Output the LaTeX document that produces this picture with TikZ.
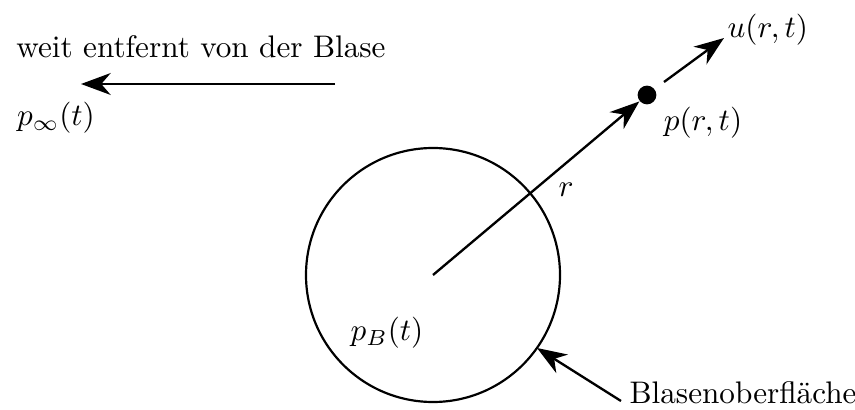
\documentclass[tikz,border=0pt]{standalone}
\usetikzlibrary{arrows.meta}
\begin{document}
\begin{tikzpicture}[x=0.3205pt,y=-0.3205pt,
  conn/.style={line width=0.75pt,-{Stealth[length=9.5pt,width=7pt,inset=3pt]}},
  lbl/.style={inner sep=0pt}]
\useasboundingbox (0,0) rectangle (855,410);
\node[draw,circle,line width=0.7pt,minimum size=254*0.3205pt,inner sep=0pt] (bubble) at (433,275) {};
\coordinate (c) at (433,275);
\node[circle,fill,minimum size=6pt,inner sep=0pt] (dot) at (647,95) {};
\coordinate (uend) at (724,38);
\coordinate (dotout) at (664,82);
\draw[conn] (c) -- (dot);
\draw[conn] (dotout) -- (uend);
\node[lbl,anchor=west] (u) at (727,30) {$u(r,t)$};
\node[lbl] (p) at (703,123) {$p(r,t)$};
\node[lbl] (r) at (566,190) {$r$};
\node[lbl] (pB) at (387,333) {$p_B(t)$};
\node[lbl,anchor=base west] (surf) at (629,404) {Blasenoberfläche};
\coordinate (sa) at (621,401);
\coordinate (tipb) at (537,348);
\draw[conn] (sa) -- (tipb);
\coordinate (far0) at (335,84);
\coordinate (far1) at (81,84);
\draw[conn] (far0) -- (far1);
\node[lbl] (weit) at (201,47) {weit entfernt von der Blase};
\node[lbl] (pinf) at (56,118) {$p_\infty(t)$};
\end{tikzpicture}
\end{document}
